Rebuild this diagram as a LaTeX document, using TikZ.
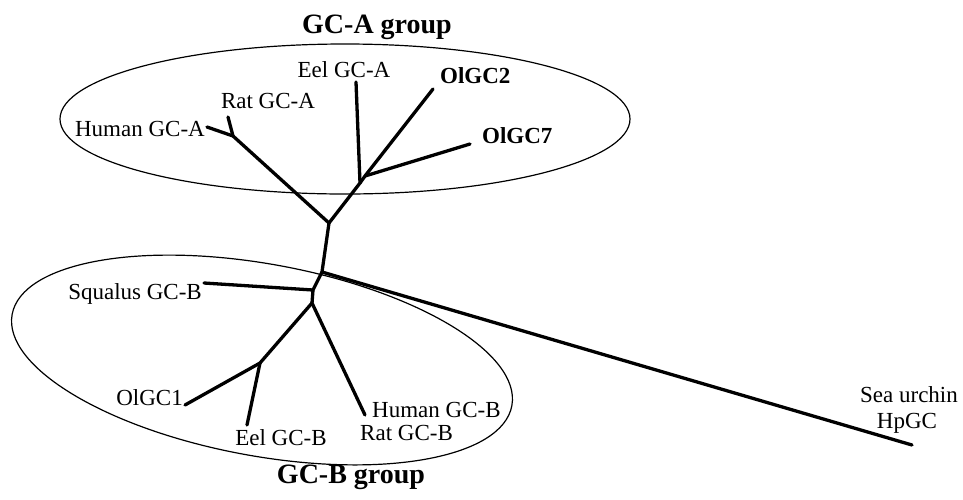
\documentclass[tikz,border=0pt]{standalone}
\usepackage{fontspec}
\setmainfont{Liberation Serif}
\begin{document}
\begin{tikzpicture}[x=1pt,y=-1pt,
  branch/.style={line width=3.3pt,line cap=round,line join=round},
  grp/.style={line width=1.2pt},
  lbl/.style={inner sep=0pt,font=\fontsize{23}{27}\selectfont},
  blbl/.style={inner sep=0pt,font=\bfseries\fontsize{23}{27}\selectfont},
  ttl/.style={inner sep=0pt,font=\bfseries\fontsize{28}{32}\selectfont}]
\useasboundingbox (0,0) rectangle (963,499);
% group ellipses
\draw[grp] (345,119) ellipse [x radius=285pt, y radius=75pt];
\draw[grp, rotate around={-10.35:(262,360)}] (262,360) ellipse [x radius=254pt, y radius=96pt];
% titles
\node[ttl, anchor=base] (tA) at (377,33) {GC-A group};
\node[ttl, anchor=base] (tB) at (351,483) {GC-B group};
% labels
\node[lbl, anchor=base] (eelA) at (344,77) {Eel GC-A};
\node[lbl, anchor=base] (ratA) at (268,108) {Rat GC-A};
\node[lbl, anchor=base east] (humA) at (205,136) {Human GC-A};
\node[blbl, anchor=base west] (ol2) at (440,83) {OlGC2};
\node[blbl, anchor=base west] (ol7) at (482,143) {OlGC7};
\node[lbl, anchor=base east] (squ) at (202,299) {Squalus GC-B};
\node[lbl, anchor=base east] (ol1) at (183,405) {OlGC1};
\node[lbl, anchor=base] (eelB) at (281,445) {Eel GC-B};
\node[lbl, anchor=base west] (humB) at (372,417) {Human GC-B};
\node[lbl, anchor=base west] (ratB) at (360,440) {Rat GC-B};
\node[lbl, anchor=base] (sea) at (909,402) {Sea urchin};
\node[lbl, anchor=base] (hp) at (907,428) {HpGC};
% tree points
\coordinate (A0) at (329,223);
\coordinate (HR) at (233,136);
\coordinate (lHumA) at (207,127);
\coordinate (lRatA) at (228,117);
\coordinate (E) at (360,183);
\coordinate (F) at (365,176);
\coordinate (lEelA) at (356,82);
\coordinate (lOl2) at (433,89);
\coordinate (lOl7) at (470,144);
\coordinate (S) at (322,272);
\coordinate (Q) at (313,290);
\coordinate (B0) at (312,303);
\coordinate (lSqu) at (204,283);
\coordinate (B1) at (260,363);
\coordinate (lOl1) at (185,405);
\coordinate (lEelB) at (247,425);
\coordinate (lHumB) at (365,415);
\coordinate (lSea) at (912,445);
% branches
\draw[branch] (lHumA) -- (HR) -- (A0) -- (S) -- (Q) -- (B0);
\draw[branch] (lRatA) -- (HR);
\draw[branch] (A0) -- (E) -- (lEelA);
\draw[branch] (E) -- (F) -- (lOl2);
\draw[branch] (F) -- (lOl7);
\draw[branch] (S) -- (lSea);
\draw[branch] (lSqu) -- (Q);
\draw[branch] (B0) -- (B1) -- (lOl1);
\draw[branch] (B1) -- (lEelB);
\draw[branch] (B0) -- (lHumB);
\end{tikzpicture}
\end{document}
